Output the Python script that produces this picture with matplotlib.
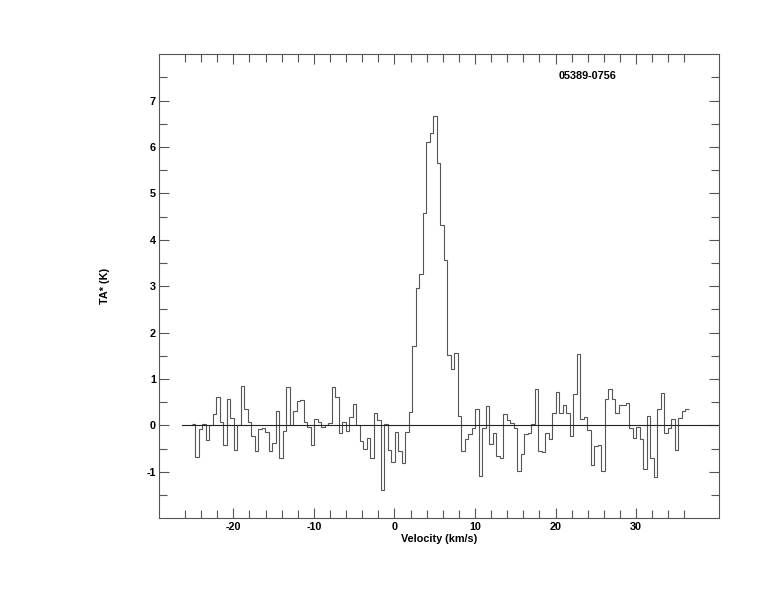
import numpy as np
import matplotlib
matplotlib.use("Agg")
import matplotlib.pyplot as plt
from matplotlib.ticker import FixedLocator

# Channel grid of the spectrum (km/s)
v_start = -25.17
dv = 0.4344

# Antenna temperature per channel (K)
ta = [
    0.04, -0.68, -0.07, 0.04, -0.32, 0.02, 0.24, 0.62, 0.07, -0.42,
    0.58, 0.17, -0.53, 0.02, 0.86, 0.35, 0.07, -0.22, -0.54, -0.07,
    -0.05, -0.15, -0.56, -0.37, 0.32, -0.70, -0.12, 0.83, 0.00, 0.31,
    0.52, 0.54, 0.07, -0.04, -0.42, 0.14, 0.07, -0.04, 0.00, 0.06,
    0.83, 0.62, -0.17, 0.08, -0.11, 0.19, 0.47, 0.00, -0.34, -0.50,
    -0.28, -0.70, 0.26, 0.11, -1.38, 0.04, -0.52, -0.78, -0.14, -0.55,
    -0.81, -0.14, 0.29, 1.71, 2.97, 3.26, 4.57, 6.12, 6.30, 6.66,
    5.65, 4.32, 3.57, 1.53, 1.21, 1.57, 0.20, -0.55, -0.30, -0.18,
    -0.05, 0.36, -1.09, -0.05, 0.42, -0.40, -0.16, -0.66, -0.71, 0.25,
    0.11, 0.06, -0.06, -0.97, -0.61, -0.19, -0.16, 0.04, 0.79, -0.54,
    -0.57, -0.16, -0.30, 0.27, 0.73, 0.26, 0.45, 0.26, -0.22, 0.67,
    1.55, 0.15, 0.19, -0.10, -0.86, -0.45, -0.42, -0.99, 0.58, 0.79,
    0.58, 0.26, 0.45, 0.45, 0.49, -0.06, -0.28, -0.03, -0.30, -0.93,
    0.21, -0.71, -1.11, 0.35, 0.71, -0.17, -0.05, 0.13, -0.52, 0.17,
    0.32, 0.35,
]

x_major = [-20, -10, 0, 10, 20, 30]
y_major = [-1, 0, 1, 2, 3, 4, 5, 6, 7]
title = "05389-0756"

edges = v_start + dv * np.arange(len(ta) + 1)

plt.rcParams['font.family'] = ['Liberation Sans', 'DejaVu Sans']
plt.rcParams['font.weight'] = 'bold'
plt.rcParams['axes.unicode_minus'] = False

fig = plt.figure(figsize=(7.74, 6.12), dpi=100)
ax = fig.add_axes([159.3 / 774, 1 - 518.3 / 612, (719 - 159.3) / 774, (518.3 - 54.3) / 612])

ax.stairs(ta, edges, baseline=None, color='#555555', linewidth=0.8)
ax.plot([-26.4, 40.3], [0, 0], color='#222222', linewidth=0.8)

ax.set_xlim(-29.2, 40.3)
ax.set_ylim(-2, 8)

ax.xaxis.set_major_locator(FixedLocator(x_major))
ax.xaxis.set_minor_locator(FixedLocator(np.arange(-26, 37, 2)))
ax.yaxis.set_major_locator(FixedLocator(y_major))
ax.yaxis.set_minor_locator(FixedLocator(np.arange(-1.5, 7.6, 0.5)))

for s in ax.spines.values():
    s.set_color('#555555')
    s.set_linewidth(0.8)

ax.tick_params(which='both', direction='in', top=True, right=True,
               color='#555555', width=0.8, labelsize=7.8, pad=2.5)
ax.tick_params(which='major', length=7.5)
ax.tick_params(which='minor', length=5.5)
for lab in ax.get_xticklabels() + ax.get_yticklabels():
    lab.set_fontweight('bold')

ax.set_xlabel('Velocity (km/s)', fontsize=7.8, fontweight='bold', labelpad=0)
ax.xaxis.set_label_coords(0.5, -0.033)
ax.set_ylabel('TA* (K)', fontsize=7.8, fontweight='bold')
ax.yaxis.set_label_coords(-0.088, 0.5)

ax.text(0.766, 0.954, title, transform=ax.transAxes, fontsize=7.8,
        fontweight='bold', ha='center', va='center')

fig.savefig('out.png', dpi=100)
